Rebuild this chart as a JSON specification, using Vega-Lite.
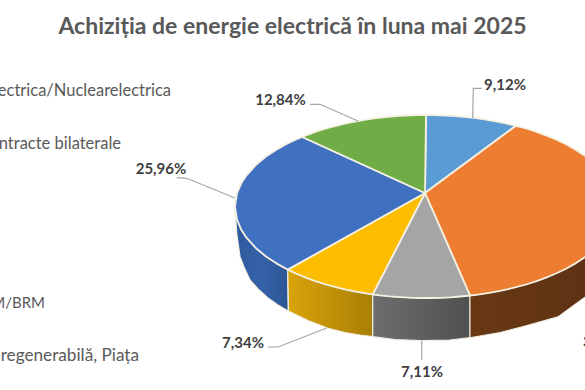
{"$schema":"https://vega.github.io/schema/vega-lite/v6.json","width":585,"height":390,"padding":0,"autosize":"none","background":"#ffffff",
"title":{"text":"Achiziția de energie electrică în luna mai 2025","anchor":"middle","font":"Lato","fontSize":23,"fontWeight":"bold","color":"#595959","offset":0,"dy":39},
"config":{"view":{"stroke":null}},
"datasets":{
"faces":[
{"s":"Hidroelectrica","o":1,"x":425,"y":193},{"s":"Hidroelectrica","o":2,"x":426,"y":115},{"s":"Hidroelectrica","o":3,"x":436,"y":115.1},{"s":"Hidroelectrica","o":4,"x":446,"y":115.5},{"s":"Hidroelectrica","o":5,"x":456,"y":116.1},{"s":"Hidroelectrica","o":6,"x":466,"y":117},{"s":"Hidroelectrica","o":7,"x":476,"y":118.2},{"s":"Hidroelectrica","o":8,"x":486,"y":119.6},{"s":"Hidroelectrica","o":9,"x":496,"y":121.4},{"s":"Hidroelectrica","o":10,"x":506,"y":123.4},{"s":"Hidroelectrica","o":11,"x":515.7,"y":126},{"s":"Hidroelectrica","o":12,"x":425,"y":193},
{"s":"Contracte","o":1,"x":425,"y":193},{"s":"Contracte","o":2,"x":515.7,"y":126},{"s":"Contracte","o":3,"x":526,"y":128.5},{"s":"Contracte","o":4,"x":536,"y":131.7},{"s":"Contracte","o":5,"x":546,"y":135.3},{"s":"Contracte","o":6,"x":556,"y":139.5},{"s":"Contracte","o":7,"x":566,"y":144.3},{"s":"Contracte","o":8,"x":576,"y":149.9},{"s":"Contracte","o":9,"x":586,"y":156.5},{"s":"Contracte","o":10,"x":596,"y":164.8},{"s":"Contracte","o":11,"x":606,"y":175.9},{"s":"Contracte","o":12,"x":611,"y":183.8},{"s":"Contracte","o":13,"x":615,"y":193.3},{"s":"Contracte","o":14,"x":617,"y":206.5},{"s":"Contracte","o":15,"x":615,"y":219.7},{"s":"Contracte","o":16,"x":611,"y":229.2},{"s":"Contracte","o":17,"x":606,"y":237.1},{"s":"Contracte","o":18,"x":596,"y":248.2},{"s":"Contracte","o":19,"x":586,"y":256.5},{"s":"Contracte","o":20,"x":576,"y":263.1},{"s":"Contracte","o":21,"x":566,"y":268.7},{"s":"Contracte","o":22,"x":556,"y":273.5},{"s":"Contracte","o":23,"x":546,"y":277.7},{"s":"Contracte","o":24,"x":536,"y":281.3},{"s":"Contracte","o":25,"x":526,"y":284.5},{"s":"Contracte","o":26,"x":516,"y":287.2},{"s":"Contracte","o":27,"x":506,"y":289.6},{"s":"Contracte","o":28,"x":496,"y":291.6},{"s":"Contracte","o":29,"x":486,"y":293.4},{"s":"Contracte","o":30,"x":476,"y":294.8},{"s":"Contracte","o":31,"x":470,"y":295.5},{"s":"Contracte","o":32,"x":425,"y":193},
{"s":"Gri","o":1,"x":425,"y":193},{"s":"Gri","o":2,"x":470,"y":295.5},{"s":"Gri","o":3,"x":460,"y":296.5},{"s":"Gri","o":4,"x":450,"y":297.3},{"s":"Gri","o":5,"x":440,"y":297.8},{"s":"Gri","o":6,"x":430,"y":298},{"s":"Gri","o":7,"x":420,"y":298},{"s":"Gri","o":8,"x":410,"y":297.7},{"s":"Gri","o":9,"x":400,"y":297.1},{"s":"Gri","o":10,"x":390,"y":296.4},{"s":"Gri","o":11,"x":380,"y":295.3},{"s":"Gri","o":12,"x":372.7,"y":294.4},{"s":"Gri","o":13,"x":425,"y":193},
{"s":"BRM","o":1,"x":425,"y":193},{"s":"BRM","o":2,"x":372.7,"y":294.4},{"s":"BRM","o":3,"x":366,"y":293.4},{"s":"BRM","o":4,"x":356,"y":291.7},{"s":"BRM","o":5,"x":346,"y":289.6},{"s":"BRM","o":6,"x":336,"y":287.2},{"s":"BRM","o":7,"x":326,"y":284.5},{"s":"BRM","o":8,"x":316,"y":281.3},{"s":"BRM","o":9,"x":306,"y":277.7},{"s":"BRM","o":10,"x":296,"y":273.5},{"s":"BRM","o":11,"x":287.7,"y":269.6},{"s":"BRM","o":12,"x":425,"y":193},
{"s":"Albastru","o":1,"x":425,"y":193},{"s":"Albastru","o":2,"x":287.7,"y":269.6},{"s":"Albastru","o":3,"x":276,"y":263.1},{"s":"Albastru","o":4,"x":266,"y":256.5},{"s":"Albastru","o":5,"x":256,"y":248.2},{"s":"Albastru","o":6,"x":246,"y":237.1},{"s":"Albastru","o":7,"x":241,"y":229.2},{"s":"Albastru","o":8,"x":237,"y":219.7},{"s":"Albastru","o":9,"x":235,"y":206.5},{"s":"Albastru","o":10,"x":237,"y":193.3},{"s":"Albastru","o":11,"x":241,"y":183.8},{"s":"Albastru","o":12,"x":246,"y":175.9},{"s":"Albastru","o":13,"x":256,"y":164.8},{"s":"Albastru","o":14,"x":266,"y":156.5},{"s":"Albastru","o":15,"x":276,"y":149.9},{"s":"Albastru","o":16,"x":286,"y":144.3},{"s":"Albastru","o":17,"x":296,"y":139.5},{"s":"Albastru","o":18,"x":302.3,"y":137},{"s":"Albastru","o":19,"x":425,"y":193},
{"s":"Regenerabila","o":1,"x":425,"y":193},{"s":"Regenerabila","o":2,"x":302.3,"y":137},{"s":"Regenerabila","o":3,"x":306,"y":135.3},{"s":"Regenerabila","o":4,"x":316,"y":131.7},{"s":"Regenerabila","o":5,"x":326,"y":128.5},{"s":"Regenerabila","o":6,"x":336,"y":125.8},{"s":"Regenerabila","o":7,"x":346,"y":123.4},{"s":"Regenerabila","o":8,"x":356,"y":121.4},{"s":"Regenerabila","o":9,"x":366,"y":119.6},{"s":"Regenerabila","o":10,"x":376,"y":118.2},{"s":"Regenerabila","o":11,"x":386,"y":117},{"s":"Regenerabila","o":12,"x":396,"y":116.1},{"s":"Regenerabila","o":13,"x":406,"y":115.5},{"s":"Regenerabila","o":14,"x":416,"y":115.1},{"s":"Regenerabila","o":15,"x":426,"y":115},{"s":"Regenerabila","o":16,"x":425,"y":193}
],
"sideBlue":[{"o":1,"x":235,"y":206.5},{"o":2,"x":235.5,"y":215},{"o":3,"x":236.7,"y":233},{"o":4,"x":240,"y":256.7},{"o":5,"x":244,"y":267},{"o":6,"x":250,"y":280},{"o":7,"x":258,"y":289},{"o":8,"x":268,"y":298},{"o":9,"x":278,"y":305},{"o":10,"x":288.3,"y":311},{"o":11,"x":287.7,"y":269.6},{"o":12,"x":276,"y":263.1},{"o":13,"x":266,"y":256.5},{"o":14,"x":256,"y":248.2},{"o":15,"x":246,"y":237.1},{"o":16,"x":241,"y":229.2},{"o":17,"x":237,"y":219.7},{"o":18,"x":235,"y":206.5}],
"sideYellow":[{"o":1,"x":287.7,"y":269.6},{"o":2,"x":296,"y":273.5},{"o":3,"x":306,"y":277.7},{"o":4,"x":316,"y":281.3},{"o":5,"x":326,"y":284.5},{"o":6,"x":336,"y":287.2},{"o":7,"x":346,"y":289.6},{"o":8,"x":356,"y":291.7},{"o":9,"x":366,"y":293.4},{"o":10,"x":372.7,"y":294.4},{"o":11,"x":372.7,"y":336.7},{"o":12,"x":360,"y":335},{"o":13,"x":345,"y":332.5},{"o":14,"x":328,"y":328.3},{"o":15,"x":308,"y":320.5},{"o":16,"x":288.5,"y":311},{"o":17,"x":287.7,"y":269.6}],
"sideGray":[{"o":1,"x":372.7,"y":294.4},{"o":2,"x":390,"y":296.4},{"o":3,"x":410,"y":297.7},{"o":4,"x":430,"y":298},{"o":5,"x":450,"y":297.3},{"o":6,"x":470,"y":295.5},{"o":7,"x":470,"y":337.7},{"o":8,"x":450,"y":340},{"o":9,"x":421.7,"y":340.7},{"o":10,"x":395,"y":339.5},{"o":11,"x":372.7,"y":336.7},{"o":12,"x":372.7,"y":294.4}],
"sideBrown":[{"o":1,"x":470,"y":295.5},{"o":2,"x":486,"y":293.4},{"o":3,"x":506,"y":289.6},{"o":4,"x":526,"y":284.5},{"o":5,"x":546,"y":277.7},{"o":6,"x":566,"y":268.7},{"o":7,"x":586,"y":256.5},{"o":8,"x":606,"y":237.1},{"o":9,"x":617,"y":206.5},{"o":10,"x":617,"y":245},{"o":11,"x":610,"y":262},{"o":12,"x":600,"y":279},{"o":13,"x":585,"y":297},{"o":14,"x":558,"y":316.7},{"o":15,"x":525,"y":326},{"o":16,"x":500,"y":332.5},{"o":17,"x":470,"y":337.7},{"o":18,"x":470,"y":295.5}],
"leaders":[
{"s":"a","o":1,"x":472.7,"y":118},{"s":"a","o":2,"x":473.3,"y":88.3},{"s":"a","o":3,"x":481.7,"y":88.3},
{"s":"b","o":1,"x":358,"y":121},{"s":"b","o":2,"x":320,"y":104.3},{"s":"b","o":3,"x":310,"y":104.3},
{"s":"c","o":1,"x":235,"y":198},{"s":"c","o":2,"x":186.7,"y":178.3},{"s":"c","o":3,"x":176.7,"y":177.7},
{"s":"d","o":1,"x":326.7,"y":328},{"s":"d","o":2,"x":278,"y":347},{"s":"d","o":3,"x":268,"y":347},
{"s":"e","o":1,"x":421.7,"y":340.7},{"s":"e","o":2,"x":421.7,"y":360}
],
"labels":[{"t":"9,12%","x":505,"y":85},{"t":"12,84%","x":280.5,"y":100},{"t":"25,96%","x":161,"y":169},{"t":"7,34%","x":243,"y":343},{"t":"7,11%","x":422,"y":372}],
"labelCut":[{"t":"37,63%","x":583,"y":342}],
"legend":[{"t":"Hidroelectrica/Nuclearelectrica","x":171,"y":90.5},{"t":"Contracte bilaterale","x":121,"y":144}],
"legendM":[{"t":"M/BRM","x":45,"y":303}],
"legendR":[{"t":"Surse regenerabilă, Piața","x":139,"y":356}]
},
"encoding":{
"x":{"field":"x","type":"quantitative","scale":{"domain":[0,585]},"axis":null},
"y":{"field":"y","type":"quantitative","scale":{"domain":[390,0],"nice":false,"zero":false},"axis":null}
},
"layer":[
{"data":{"name":"sideBlue"},"mark":{"type":"line","clip":true,"stroke":"#f2efe4","strokeWidth":1.2,"fill":{"gradient":"linear","x1":0,"y1":0,"x2":1,"y2":0,"stops":[{"offset":0,"color":"#2f5a9e"},{"offset":0.5,"color":"#3562a8"},{"offset":1,"color":"#2c5594"}]}},"encoding":{"order":{"field":"o"}}},
{"data":{"name":"sideYellow"},"mark":{"type":"line","clip":true,"stroke":"#f2efe4","strokeWidth":1.2,"fill":{"gradient":"linear","x1":0,"y1":0,"x2":1,"y2":0,"stops":[{"offset":0,"color":"#d9a30a"},{"offset":1,"color":"#a97f05"}]}},"encoding":{"order":{"field":"o"}}},
{"data":{"name":"sideGray"},"mark":{"type":"line","clip":true,"stroke":"#f2efe4","strokeWidth":1.2,"fill":{"gradient":"linear","x1":0,"y1":0,"x2":1,"y2":0,"stops":[{"offset":0,"color":"#6e6e6e"},{"offset":1,"color":"#505050"}]}},"encoding":{"order":{"field":"o"}}},
{"data":{"name":"sideBrown"},"mark":{"type":"line","clip":true,"stroke":"#f2efe4","strokeWidth":1,"fill":{"gradient":"linear","x1":0,"y1":0,"x2":1,"y2":0,"stops":[{"offset":0,"color":"#6a3813"},{"offset":1,"color":"#5c3014"}]}},"encoding":{"order":{"field":"o"}}},
{"data":{"name":"faces"},"mark":{"type":"line","clip":true,"stroke":"#f4f0e2","strokeWidth":1.8,"strokeJoin":"round"},"encoding":{"order":{"field":"o"},"detail":{"field":"s"},"fill":{"field":"s","type":"nominal","legend":null,"scale":{"domain":["Hidroelectrica","Contracte","Gri","BRM","Albastru","Regenerabila"],"range":["#5b9bd5","#ed7d31","#a5a5a5","#fdbd00","#4070c0","#70ad47"]}}}},
{"data":{"name":"leaders"},"mark":{"type":"line","stroke":"#a6a6a6","strokeWidth":1.2},"encoding":{"order":{"field":"o"},"detail":{"field":"s"}}},
{"data":{"name":"labels"},"mark":{"type":"text","font":"Lato","fontSize":15,"fontWeight":"bold","color":"#404040","align":"center","baseline":"middle"},"encoding":{"text":{"field":"t"}}},
{"data":{"name":"labelCut"},"mark":{"type":"text","font":"Lato","fontSize":15,"fontWeight":"bold","color":"#404040","align":"left","baseline":"middle"},"encoding":{"text":{"field":"t"}}},
{"data":{"name":"legend"},"mark":{"type":"text","font":"Lato","fontSize":16.5,"color":"#595959","align":"right","baseline":"middle"},"encoding":{"text":{"field":"t"}}},
{"data":{"name":"legendM"},"mark":{"type":"text","font":"Lato","fontSize":15,"color":"#595959","align":"right","baseline":"middle"},"encoding":{"text":{"field":"t"}}},
{"data":{"name":"legendR"},"mark":{"type":"text","font":"Lato","fontSize":17.2,"color":"#595959","align":"right","baseline":"middle"},"encoding":{"text":{"field":"t"}}}
]}
